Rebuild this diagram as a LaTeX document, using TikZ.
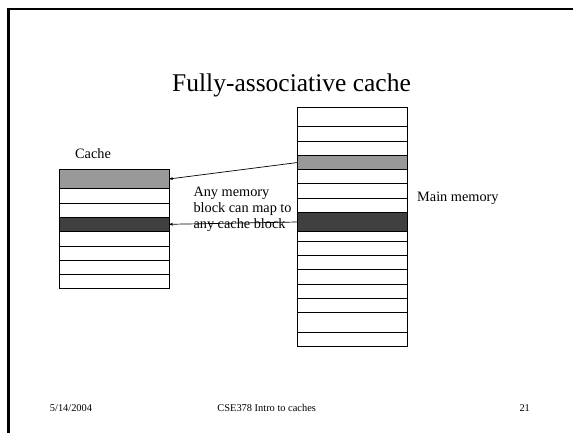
\documentclass[tikz,border=0pt]{standalone}
\usepackage{fontspec}
\setmainfont{Liberation Serif}
\usetikzlibrary{arrows.meta}
\definecolor{litegray}{RGB}{153,153,153}
\definecolor{darkblk}{RGB}{64,64,64}
\tikzset{
  rowbox/.style={draw=black, line width=0.8pt, fill=white, inner sep=0pt, outer sep=0pt, anchor=north west},
  cacherow/.style={rowbox, minimum width=109.7pt},
  memrow/.style={rowbox, minimum width=110pt},
  lbl/.style={inner sep=0pt, font=\fontsize{14.3}{16}\selectfont},
  foot/.style={inner sep=0pt, anchor=base, font=\fontsize{10.4}{12}\selectfont},
  mapline/.style={line width=0.7pt, -{Stealth[length=4pt,width=3pt]}},
  frameline/.style={line width=2.6pt, black}
}
\begin{document}
\begin{tikzpicture}[x=1pt,y=-1pt]
\useasboundingbox (0,0) rectangle (573,433);
% slide frame (top and left edges)
\draw[frameline] (573,9) -- (8.7,9) -- (8.7,433);
% title
\node[inner sep=0pt, anchor=base, font=\fontsize{25.5}{30}\selectfont] (title) at (291.5,92) {Fully-associative cache};
% cache
\node[lbl, anchor=base west] (cachelbl) at (75,158) {Cache};
\foreach \i/\t/\b/\f in {1/169.3/188.7/litegray, 2/188.7/203/white, 3/203/217.3/white, 4/217.3/231.3/darkblk, 5/231.3/246/white, 6/246/260/white, 7/260/274.3/white, 8/274.3/288.7/white}{
  \pgfmathsetmacro{\h}{\b-\t}
  \node[cacherow, fill=\f, minimum height=\h pt] (c\i) at (59.3,\t) {};
}
% main memory
\foreach \i/\t/\b/\f in {1/107.3/126.3/white, 2/126.3/141.3/white, 3/141.3/155.7/white, 4/155.7/169.3/litegray, 5/169.3/183.7/white, 6/183.7/198.3/white, 7/198.3/212.3/white, 8/212.3/231.7/darkblk, 9/231.7/241.3/white, 10/241.3/255.7/white, 11/255.7/269.3/white, 12/269.3/284/white, 13/284/298.3/white, 14/298.3/312.7/white, 15/312.7/332/white, 16/332/346/white}{
  \pgfmathsetmacro{\h}{\b-\t}
  \node[memrow, fill=\f, minimum height=\h pt] (m\i) at (297.7,\t) {};
}
\node[lbl, anchor=base west] (memlbl) at (417,201) {Main memory};
% explanation (anchor = baseline of last line)
\node[lbl, anchor=base west, align=left] (expl) at (193.3,228) {Any memory\\block can map to\\any cache block};
% mapping arrows
\draw[mapline] (m4.west) -- (c1.east);
\draw[mapline] (m8.west) -- (c4.east);
% footer
\node[foot] (date) at (71,411) {5/14/2004};
\node[foot] (course) at (266.7,411) {CSE378 Intro to caches};
\node[foot] (page) at (524.7,411) {21};
\end{tikzpicture}
\end{document}
